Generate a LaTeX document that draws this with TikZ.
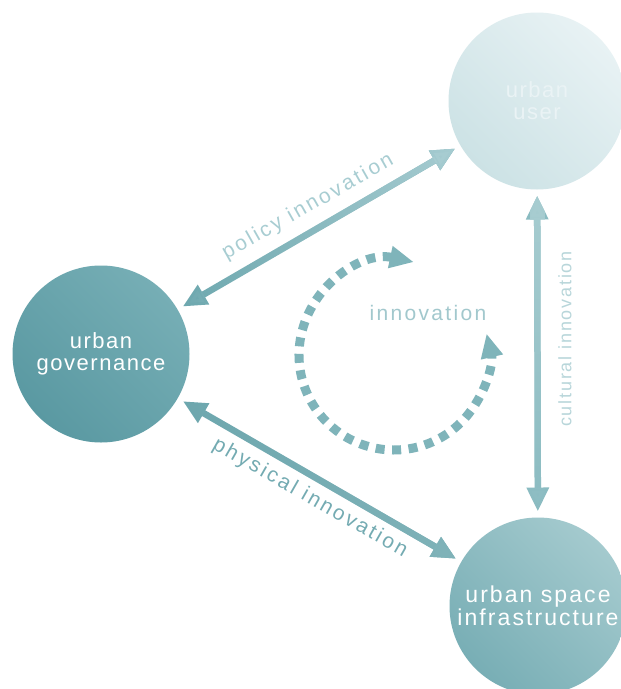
\documentclass[tikz,border=0pt]{standalone}
\usepackage{fontspec}
\setmainfont{Liberation Sans}
\newfontfamily\hubfont[LetterSpace=7]{Liberation Sans}
\newfontfamily\infrafont[LetterSpace=9]{Liberation Sans}
\newfontfamily\labfont[LetterSpace=12]{Liberation Sans}
\newfontfamily\culfont[LetterSpace=10]{Liberation Sans}
\newfontfamily\innfont[LetterSpace=11]{Liberation Sans}
\usetikzlibrary{arrows.meta,fadings}
\definecolor{govL}{HTML}{5A99A2}
\definecolor{govR}{HTML}{76AEB5}
\definecolor{userL}{HTML}{CCE2E5}
\definecolor{userR}{HTML}{E8F2F4}
\definecolor{userT}{HTML}{EAF3F5}
\definecolor{infL}{HTML}{78AEB5}
\definecolor{infR}{HTML}{A4CACE}
\definecolor{polL}{HTML}{6CA7AE}
\definecolor{polR}{HTML}{A8CDD2}
\definecolor{phyL}{HTML}{6DA7AE}
\definecolor{phyR}{HTML}{80B3B9}
\definecolor{culT}{HTML}{A8CDD1}
\definecolor{culB}{HTML}{8ABBC1}
\definecolor{polText}{HTML}{A8CDD2}
\definecolor{phyText}{HTML}{74ABB2}
\definecolor{culText}{HTML}{B8D6DA}
\definecolor{innText}{HTML}{A2C8CD}
\definecolor{innArc}{HTML}{7FB4BA}
\tikzfading[name=fadeLR, left color=transparent!100, right color=transparent!0]
\tikzfading[name=fadeTB, top color=transparent!0, bottom color=transparent!100]
\begin{document}
\begin{tikzpicture}[x=1pt,y=-1pt,
  hub/.style={circle, minimum size=177pt, inner sep=0pt, outer sep=0pt, align=center,
    font=\hubfont\fontsize{22}{22}\selectfont},
  link/.style={line width=6.5pt,
    {Triangle[length=24pt,width=21pt]}-{Triangle[length=24pt,width=21pt]},
    shorten <=6pt, shorten >=6pt},
  lbl/.style={inner sep=0pt, font=\labfont\fontsize{21}{22}\selectfont},
  smalllbl/.style={inner sep=0pt, font=\culfont\fontsize{18}{20}\selectfont}]
\useasboundingbox (0,0) rectangle (621,689);
\fill[white] (0,0) rectangle (621,689);

\node[hub, shade, top color=govR, bottom color=govL, shading angle=-45, text=white] (gov) at (101,354) {urban\\governance};
\node[hub, shade, top color=userR, bottom color=userL, shading angle=-45, text=userT] (user) at (537,101) {urban\\user};
\node[hub, shade, top color=infR, bottom color=infL, shading angle=-45, text=white,
  font=\infrafont\fontsize{23}{23}\selectfont] (infra) at (538,606) {urban space\\infrastructure};

% policy innovation
\draw[link, polL] (gov) -- (user);
\draw[link, polR, path fading=fadeLR] (gov) -- (user);
% physical innovation
\draw[link, phyL] (gov) -- (infra);
\draw[link, phyR, path fading=fadeLR] (gov) -- (infra);
% cultural innovation
\draw[link, culB] (user) -- (infra);
\draw[link, culT, path fading=fadeTB] (user) -- (infra);

\node[lbl, text=polText, rotate=29.5] (polLbl) at (308,207) {policy innovation};
\node[lbl, text=phyText, rotate=-29.7] (phyLbl) at (310,498) {physical innovation};
\node[smalllbl, text=culText, rotate=90] (culLbl) at (565,339) {cultural innovation};

% innovation cycle
\coordinate (cyc) at (394,355);
\draw[innArc, line width=9pt, dash pattern=on 9pt off 7.5pt,
  {Triangle[length=24pt,width=21pt]}-{Triangle[length=24pt,width=21pt]}]
  (cyc) ++(282:95) arc[start angle=282, end angle=-13, radius=95];
\node[inner sep=0pt, text=innText, font=\innfont\fontsize{21}{22}\selectfont] (innLbl) at (428,313) {innovation};
\end{tikzpicture}
\end{document}
